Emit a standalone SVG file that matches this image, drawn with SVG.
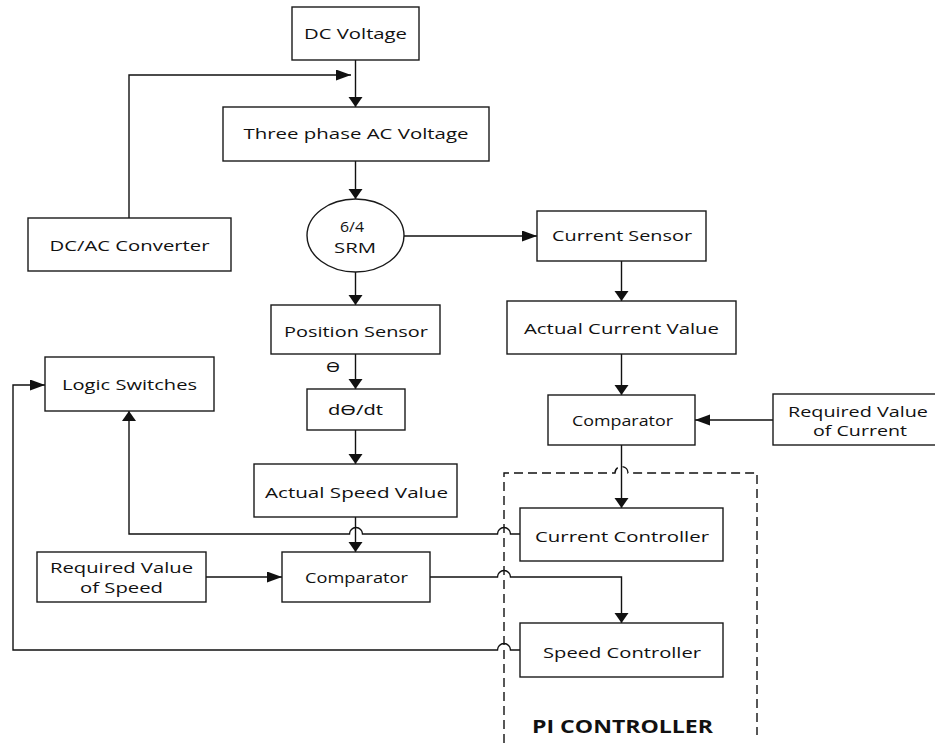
<svg xmlns="http://www.w3.org/2000/svg" width="935" height="743" viewBox="0 0 935 743">
<defs>
<style>
.box{fill:#fff;stroke:#1a1a1a;stroke-width:1.4}
.t{font-family:"Open Sans","DejaVu Sans",sans-serif;font-size:15px;fill:#111;text-anchor:middle}
.th{font-family:"Noto Sans","Open Sans","DejaVu Sans",sans-serif}
.b{font-weight:bold;font-size:18px}
.ln{fill:none;stroke:#111;stroke-width:1.4}
.ds{fill:none;stroke:#111;stroke-width:1.4;stroke-dasharray:9 5}
</style>
<marker id="ah" markerUnits="userSpaceOnUse" markerWidth="16" markerHeight="12" refX="15" refY="5.5" orient="auto"><path d="M0,0 L15,5.5 L0,11 z" fill="#111"/></marker>
<marker id="av" markerUnits="userSpaceOnUse" markerWidth="12" markerHeight="16" refX="10" refY="7" orient="auto"><path d="M0,0 L10,7 L0,14 z" fill="#111"/></marker>
</defs>
<rect width="935" height="743" fill="#fff"/>
<g id="connectors">
<path class="ln" d="M355.5,60 V107" marker-end="url(#av)"/>
<path class="ln" d="M129,218 V75 H351" marker-end="url(#ah)"/>
<path class="ln" d="M355.5,161 V199" marker-end="url(#av)"/>
<path class="ln" d="M404,236 H537" marker-end="url(#ah)"/>
<path class="ln" d="M355.5,272 V305" marker-end="url(#av)"/>
<path class="ln" d="M355.5,354 V389" marker-end="url(#av)"/>
<path class="ln" d="M355.5,430 V464" marker-end="url(#av)"/>
<path class="ln" d="M355.5,517 V552" marker-end="url(#av)"/>
<path class="ln" d="M206,577 H282" marker-end="url(#ah)"/>
<path class="ln" d="M430,577 H497.5 A6.5,6.5 0 0 1 510.5,577 H621.5 V623" marker-end="url(#av)"/>
<path class="ln" d="M621.5,261 V301" marker-end="url(#av)"/>
<path class="ln" d="M621.5,354 V395" marker-end="url(#av)"/>
<path class="ln" d="M773,420 H695" marker-end="url(#ah)"/>
<path class="ln" d="M621.5,445 V508" marker-end="url(#av)"/>
<path class="ln" d="M520,534 H510.5 A6.5,6.5 0 0 0 497.5,534 H362.5 A6.5,6.5 0 0 0 349.5,534 H129 V411" marker-end="url(#av)"/>
<path class="ln" d="M520,650 H510.5 A6.5,6.5 0 0 0 497.5,650 H13 V385 H45" marker-end="url(#ah)"/>
</g>
<g id="pi-controller">
<path class="ds" d="M504,743 V473 H615 A6.5,6.5 0 0 1 628,473 H757 V735"/>
<text class="t b" x="622.5" y="733" textLength="181" lengthAdjust="spacingAndGlyphs">PI CONTROLLER</text>
</g>
<g id="dc-voltage"><rect class="box" x="292" y="7" width="127" height="53"/><text class="t" x="355.5" y="39" textLength="103" lengthAdjust="spacingAndGlyphs">DC Voltage</text></g>
<g id="three-phase"><rect class="box" x="223" y="107" width="266" height="54"/><text class="t" x="356" y="139" textLength="225" lengthAdjust="spacingAndGlyphs">Three phase AC Voltage</text></g>
<g id="srm"><ellipse class="box" cx="355.5" cy="235.5" rx="48.5" ry="36.5"/><text class="t" x="352" y="232" textLength="24" lengthAdjust="spacingAndGlyphs">6/4</text><text class="t" x="355" y="253" textLength="42" lengthAdjust="spacingAndGlyphs">SRM</text></g>
<g id="current-sensor"><rect class="box" x="537" y="211" width="169" height="50"/><text class="t" x="622" y="241" textLength="140" lengthAdjust="spacingAndGlyphs">Current Sensor</text></g>
<g id="dc-ac-converter"><rect class="box" x="28" y="218" width="203" height="53"/><text class="t" x="129.5" y="251" textLength="160" lengthAdjust="spacingAndGlyphs">DC/AC Converter</text></g>
<g id="logic-switches"><rect class="box" x="45" y="357" width="169" height="54"/><text class="t" x="129.5" y="390" textLength="135" lengthAdjust="spacingAndGlyphs">Logic Switches</text></g>
<g id="position-sensor"><rect class="box" x="271" y="305" width="169" height="49"/><text class="t" x="356" y="337" textLength="144" lengthAdjust="spacingAndGlyphs">Position Sensor</text><text class="t th" x="333" y="372" textLength="14" lengthAdjust="spacingAndGlyphs">ϴ</text></g>
<g id="dtheta-dt"><rect class="box" x="307" y="389" width="98" height="41"/><text class="t th" x="355.5" y="415" textLength="55" lengthAdjust="spacingAndGlyphs">dϴ/dt</text></g>
<g id="actual-current"><rect class="box" x="507" y="301" width="229" height="53"/><text class="t" x="621.5" y="334" textLength="195" lengthAdjust="spacingAndGlyphs">Actual Current Value</text></g>
<g id="current-comparator"><rect class="box" x="548" y="395" width="147" height="50"/><text class="t" x="622.5" y="426" textLength="101" lengthAdjust="spacingAndGlyphs">Comparator</text></g>
<g id="required-current"><rect class="box" x="773" y="394" width="170" height="51"/><text class="t" x="858" y="417" textLength="140" lengthAdjust="spacingAndGlyphs">Required Value</text><text class="t" x="860" y="436" textLength="94" lengthAdjust="spacingAndGlyphs">of Current</text></g>
<g id="actual-speed"><rect class="box" x="254" y="464" width="203" height="53"/><text class="t" x="356.5" y="498" textLength="183" lengthAdjust="spacingAndGlyphs">Actual Speed Value</text></g>
<g id="speed-comparator"><rect class="box" x="282" y="552" width="148" height="50"/><text class="t" x="356.5" y="583" textLength="103" lengthAdjust="spacingAndGlyphs">Comparator</text></g>
<g id="required-speed"><rect class="box" x="37" y="552" width="169" height="50"/><text class="t" x="121.5" y="573" textLength="143" lengthAdjust="spacingAndGlyphs">Required Value</text><text class="t" x="121.5" y="593" textLength="83" lengthAdjust="spacingAndGlyphs">of Speed</text></g>
<g id="current-controller"><rect class="box" x="520" y="508" width="203" height="53"/><text class="t" x="622" y="542" textLength="174" lengthAdjust="spacingAndGlyphs">Current Controller</text></g>
<g id="speed-controller"><rect class="box" x="520" y="623" width="203" height="54"/><text class="t" x="622" y="658" textLength="158" lengthAdjust="spacingAndGlyphs">Speed Controller</text></g>
</svg>
